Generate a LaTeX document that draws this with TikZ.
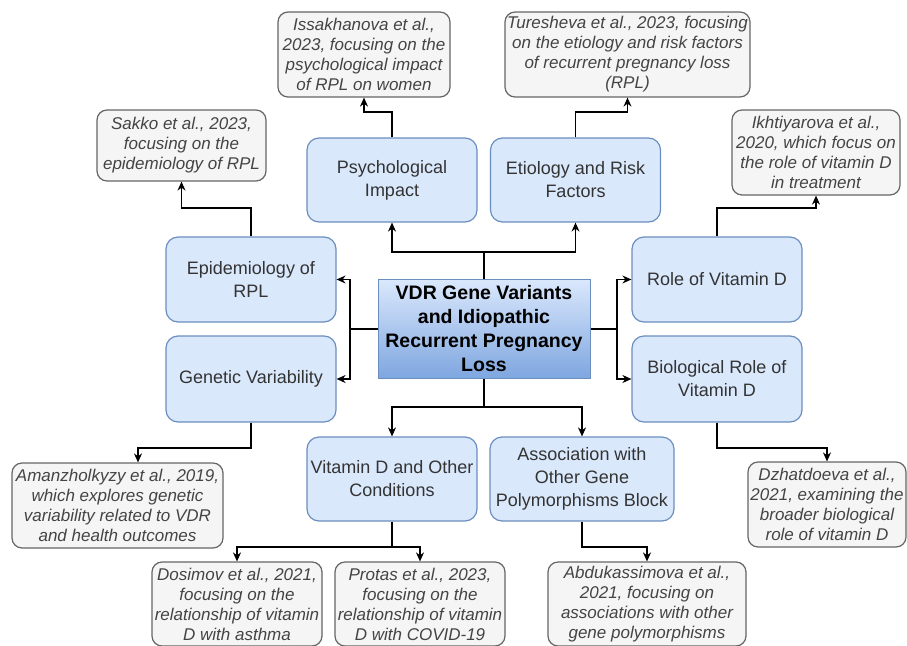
\documentclass[tikz,border=0pt]{standalone}
\usepackage{fontspec}
\setmainfont{Liberation Sans}
\usetikzlibrary{arrows.meta,calc}
\definecolor{bfill}{HTML}{DAE8FC}
\definecolor{bdraw}{HTML}{6C8EBF}
\definecolor{bdark}{HTML}{7EA6E0}
\definecolor{gfill}{HTML}{F5F5F5}
\definecolor{gdraw}{HTML}{666666}
\definecolor{txt}{HTML}{333333}
\definecolor{ctxt}{HTML}{444444}
\begin{document}
\begin{tikzpicture}[x=1pt,y=-1pt,
 topic/.style={draw=bdraw, fill=bfill, rounded corners=12pt, line width=1.2pt, minimum width=170pt, minimum height=85pt, align=center, text=txt, font=\fontsize{18}{23}\selectfont, inner sep=2pt},
 cite/.style={draw=gdraw, fill=gfill, rounded corners=10pt, line width=1.2pt, align=center, text=ctxt, font=\fontsize{17}{20}\selectfont\itshape, inner sep=1pt},
 mainbox/.style={draw=bdraw, top color=bfill, bottom color=bdark, line width=1pt, minimum width=212pt, minimum height=99pt, align=center, text=black, font=\fontsize{19.5}{24}\selectfont\bfseries, inner sep=1pt},
 arr/.style={-{Stealth[length=9pt,width=8pt]}, line width=1.3pt},
 ln/.style={line width=1.3pt}]
\useasboundingbox (0,0) rectangle (907,645);

% central node
\node[mainbox] (m) at (484,329) {VDR Gene Variants\\and Idiopathic\\Recurrent Pregnancy\\Loss};

% topic nodes
\node[topic, minimum height=84pt] (psy) at (392,180) {Psychological\\Impact};
\node[topic, minimum height=84pt] (eti) at (575.5,180) {Etiology and Risk\\Factors};
\node[topic] (epi) at (251,279.5) {Epidemiology of\\RPL};
\node[topic, minimum height=86pt] (gen) at (251,379) {Genetic Variability};
\node[topic] (rol) at (717,279.5) {Role of Vitamin D};
\node[topic, minimum height=86pt] (bio) at (717,379) {Biological Role of\\Vitamin D};
\node[topic, minimum height=84pt] (vit) at (392,479) {Vitamin D and Other\\Conditions};
\node[topic, minimum height=84pt, minimum width=184pt] (ass) at (582,479) {Association with\\Other Gene\\Polymorphisms Block};

% citation nodes
\node[cite, minimum width=172pt, minimum height=85pt] (iss) at (364,54.5) {Issakhanova et al.,\\2023, focusing on the\\psychological impact\\of RPL on women};
\node[cite, minimum width=245pt, minimum height=85pt] (tur) at (627.5,54.5) {Turesheva et al., 2023, focusing\\on the etiology and risk factors\\of recurrent pregnancy loss\\(RPL)};
\node[cite, minimum width=169pt, minimum height=71pt] (sak) at (181.5,145.5) {Sakko et al., 2023,\\focusing on the\\epidemiology of RPL};
\node[cite, minimum width=168pt, minimum height=85pt] (ikh) at (816,152.5) {Ikhtiyarova et al.,\\2020, which focus on\\the role of vitamin D\\in treatment};
\node[cite, minimum width=211pt, minimum height=85pt] (ama) at (117.5,505.5) {Amanzholkyzy et al., 2019,\\which explores genetic\\variability related to VDR\\and health outcomes};
\node[cite, minimum width=158pt, minimum height=85pt] (dzh) at (827,504.5) {Dzhatdoeva et al.,\\2021, examining the\\broader biological\\role of vitamin D};
\node[cite, minimum width=170pt, minimum height=84pt] (dos) at (237,604) {Dosimov et al., 2021,\\focusing on the\\relationship of vitamin\\D with asthma};
\node[cite, minimum width=170pt, minimum height=84pt] (pro) at (420,604) {Protas et al., 2023,\\focusing on the\\relationship of vitamin\\D with COVID-19};
\node[cite, minimum width=198pt, minimum height=84pt] (abd) at (647,604) {Abdukassimova et al.,\\2021, focusing on\\associations with other\\gene polymorphisms};

% junction coordinates
\coordinate (jt) at (484,252);
\coordinate (jb) at (484,407);
\coordinate (jl) at (350,329);
\coordinate (jr) at (617,329);

% central connectors
\draw[ln] (m.north) -- (jt);
\draw[arr] (jt) -| (psy.south);
\draw[arr] (jt) -| (eti.south);
\draw[ln] (m.south) -- (jb);
\draw[arr] (jb) -| (vit.north);
\draw[arr] (jb) -| (ass.north);
\draw[ln] (m.west) -- (jl);
\draw[arr] (jl) |- (epi.east);
\draw[arr] (jl) |- (gen.east);
\draw[ln] (m.east) -- (jr);
\draw[arr] (jr) |- (rol.west);
\draw[arr] (jr) |- (bio.west);

% citation connectors
\draw[arr] (psy.north) -- (392,112) -| (iss.south);
\draw[arr] (eti.north) -- (575.5,112) -| (tur.south);
\draw[arr] (epi.north) -- (251,208) -| (sak.south);
\draw[arr] (rol.north) -- (717,208) -| (ikh.south);
\draw[arr] (gen.south) -- (251,448) -| ([xshift=20.5pt]ama.north);
\draw[arr] (bio.south) -- (717,448) -| (dzh.north);
\coordinate (jv) at (392,547);
\draw[ln] (vit.south) -- (jv);
\draw[arr] (jv) -| (dos.north);
\draw[arr] (jv) -| (pro.north);
\draw[arr] (ass.south) -- (582,547) -| (abd.north);
\end{tikzpicture}
\end{document}
